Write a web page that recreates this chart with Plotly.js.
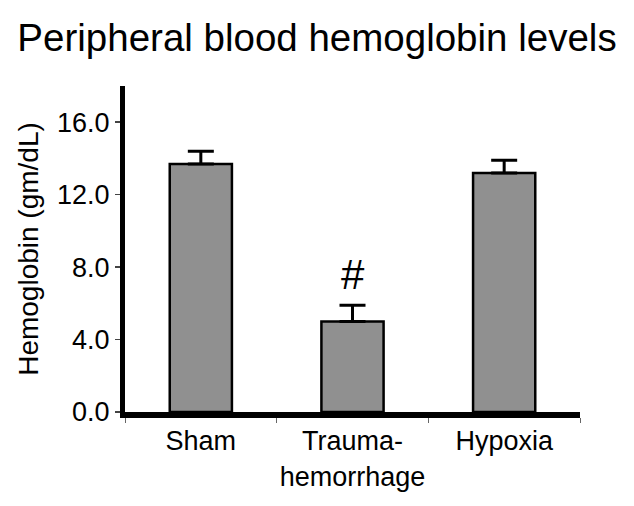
<!DOCTYPE html>
<html>
<head>
<meta charset="utf-8">
<script src="https://cdn.plot.ly/plotly-3.0.1.min.js"></script>
<style>html,body{margin:0;padding:0;background:#fff;}#chart{width:634px;height:506px;}</style>
</head>
<body>
<div id="chart"></div>
<script>
var categories = ["Sham", "Trauma-<br>hemorrhage", "Hypoxia"];
var hemoglobin = [13.7, 5.0, 13.2];
var errorPlus = [0.7, 0.9, 0.7];
var errorMinus = [0, 0, 0];
var yTicks = [0, 4, 8, 12, 16];
var yTickLabels = ["0.0", "4.0", "8.0", "12.0", "16.0"];
var marker = {text: "#", category: "Trauma-<br>hemorrhage", y: 7.6};

var FONT = "Arial, 'Liberation Sans', sans-serif";

var trace = {
  type: "bar",
  x: categories,
  y: hemoglobin,
  width: 0.41,
  marker: {color: "#909090", line: {color: "#000", width: 2.5}},
  error_y: {
    type: "data", symmetric: false, array: errorPlus, arrayminus: errorMinus,
    color: "#000", thickness: 3, width: 13
  },
  hoverinfo: "none"
};

var layout = {
  width: 634, height: 506,
  margin: {l: 125, r: 54, t: 86, b: 94},
  paper_bgcolor: "#fff", plot_bgcolor: "#fff",
  showlegend: false,
  font: {family: FONT, color: "#000"},
  title: {text: "Peripheral blood hemoglobin levels", font: {size: 38.5, family: FONT, color: "#000"},
          x: 0.5, xanchor: "center", xref: "container", y: 0.925, yanchor: "middle"},
  xaxis: {
    type: "category", range: [-0.5, 2.5],
    showline: true, linecolor: "#000", linewidth: 6,
    ticks: "outside", tickson: "boundaries", ticklen: 5, tickwidth: 1, tickcolor: "#666",
    tickangle: 0,
    tickfont: {size: 27, family: FONT, color: "#000"},
    showgrid: false, zeroline: false, fixedrange: true
  },
  yaxis: {
    range: [0, 18], tickvals: yTicks, ticktext: yTickLabels,
    showline: true, linecolor: "#000", linewidth: 5,
    ticks: "outside", ticklen: 5, tickwidth: 1.5, tickcolor: "#444",
    tickfont: {size: 27, family: FONT, color: "#000"},
    showgrid: false, zeroline: false, fixedrange: true,
    title: {text: "Hemoglobin (gm/dL)", font: {size: 28, family: FONT, color: "#000"}, standoff: 12}
  },
  annotations: [{
    x: marker.category, y: marker.y, xref: "x", yref: "y",
    text: marker.text, showarrow: false, font: {size: 42, family: FONT, color: "#000"},
    yanchor: "middle"
  }]
};

Plotly.newPlot("chart", [trace], layout, {displayModeBar: false, staticPlot: true});
</script>
</body>
</html>
